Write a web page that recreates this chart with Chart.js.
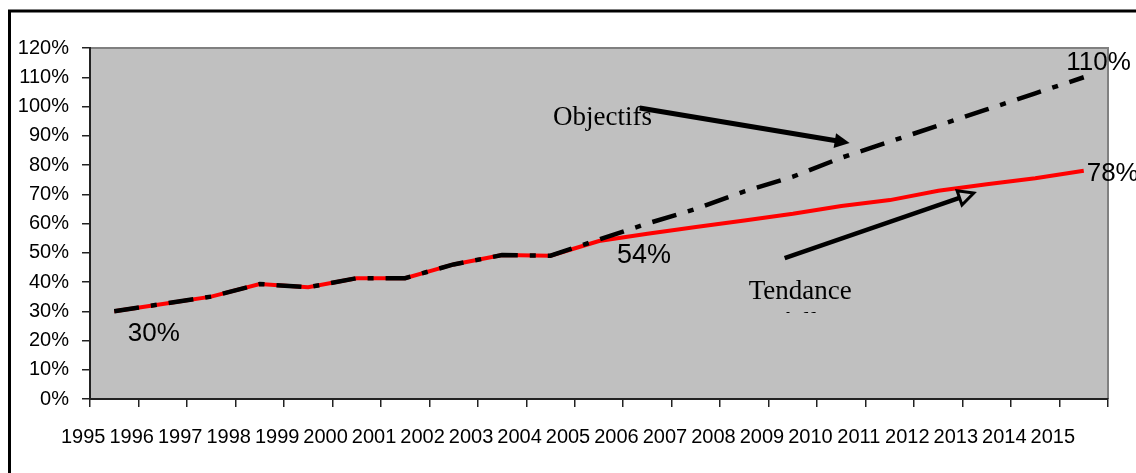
<!DOCTYPE html>
<html><head><meta charset="utf-8">
<script src="https://cdn.jsdelivr.net/npm/chart.js@4.4.0/dist/chart.umd.min.js"></script>
<style>html,body{margin:0;padding:0;background:#fff;overflow:hidden}#wrap{width:1136px;height:473px;position:relative}</style>
</head><body><div id="wrap"><canvas id="c"></canvas></div>
<script>
const years = ['1995','1996','1997','1998','1999','2000','2001','2002','2003','2004','2005','2006','2007','2008','2009','2010','2011','2012','2013','2014','2015'];
const tendance = [30,32.5,35,39.3,38.2,41.3,41.3,46,49.2,49,54,56.5,58.8,61,63.3,66,68,71.2,73.4,75.5,78];
const objectifs = [30,32.5,35,39.3,38.2,41.3,41.3,46,49.2,49,54.5,60,65,71,76,82.5,88,93.5,99,104.5,110];
const yMin = 0, yMax = 120, yStep = 10;

// annotations in data units (x: category index, y: percent)
const noteTexts = [
  {t:'30%', x:0.28, y:19.8, font:'26px "Liberation Sans"', align:'left'},
  {t:'54%', x:10.37, y:46.5, font:'27px "Liberation Sans"', align:'left'},
  {t:'78%', x:20.06, y:74.5, font:'26px "Liberation Sans"', align:'left'},
  {t:'110%', x:19.64, y:112.5, font:'26px "Liberation Sans"', align:'left'},
  {t:'Objectifs', x:9.05, y:93.7, font:'27px "Liberation Serif"', align:'left'},
  {t:'Tendance', x:14.15, y:34.2, font:'27px "Liberation Serif"', align:'center'},
  {t:'réelle', x:14.15, y:23.2, font:'27px "Liberation Serif"', align:'center', clipY:29.4}
];
const noteArrows = [
  {x0:10.84, y0:99.5, x1:15.17, y1:87.5, w:5, head:'solid'},
  {x0:13.83, y0:48.2, x1:17.73, y1:70.4, w:4.5, head:'open'}
];

const deco = {
  id:'deco',
  beforeDraw(chart){
    const {ctx, chartArea:a} = chart;
    ctx.save();
    ctx.fillStyle='#fff'; ctx.fillRect(0,0,chart.width,chart.height);
    ctx.strokeStyle='#000'; ctx.lineWidth=3;
    ctx.strokeRect(9.5,11,2000,2000);
    ctx.fillStyle='#c0c0c0';
    ctx.fillRect(a.left,a.top,a.right-a.left,a.bottom-a.top);
    ctx.strokeStyle='#808080'; ctx.lineWidth=2;
    ctx.beginPath(); ctx.moveTo(a.left,a.top); ctx.lineTo(a.right,a.top); ctx.lineTo(a.right,a.bottom); ctx.stroke();
    ctx.restore();
  },
  afterDatasetsDraw(chart){
    const {ctx} = chart; const xs=chart.scales.x, ys=chart.scales.y;
    ctx.save();
    noteArrows.forEach(n=>{
      const x0=xs.getPixelForValue(n.x0), y0=ys.getPixelForValue(n.y0);
      const x1=xs.getPixelForValue(n.x1), y1=ys.getPixelForValue(n.y1);
      const ang=Math.atan2(y1-y0,x1-x0);
      const L=15, H=7.5;
      const bx=x1-L*Math.cos(ang), by=y1-L*Math.sin(ang);
      ctx.strokeStyle='#000'; ctx.fillStyle='#000'; ctx.lineWidth=n.w; ctx.lineCap='butt';
      ctx.beginPath(); ctx.moveTo(x0,y0); ctx.lineTo(bx+3*Math.cos(ang),by+3*Math.sin(ang)); ctx.stroke();
      ctx.beginPath();
      ctx.moveTo(x1,y1);
      ctx.lineTo(bx+H*Math.sin(ang), by-H*Math.cos(ang));
      ctx.lineTo(bx-H*Math.sin(ang), by+H*Math.cos(ang));
      ctx.closePath();
      if(n.head==='solid'){ctx.fill();}
      else {ctx.fillStyle='#c0c0c0'; ctx.fill(); ctx.lineWidth=3; ctx.lineJoin='miter'; ctx.stroke();}
    });
    noteTexts.forEach(n=>{
      const x=xs.getPixelForValue(n.x), y=ys.getPixelForValue(n.y);
      ctx.save();
      if(n.clipY!==undefined){ctx.beginPath(); ctx.rect(0,0,chart.width,ys.getPixelForValue(n.clipY)); ctx.clip();}
      ctx.font=n.font; ctx.fillStyle='#000'; ctx.textAlign=n.align; ctx.textBaseline='alphabetic';
      ctx.fillText(n.t,x,y);
      ctx.restore();
    });
    ctx.restore();
  }
};

new Chart(document.getElementById('c'),{
  type:'line',
  data:{labels:years,datasets:[
    {label:'Objectifs',data:objectifs,borderColor:'#000',borderWidth:4.5,borderDash:[25,12,6,12],pointRadius:0,tension:0,fill:false},
    {label:'Tendance',data:tendance,borderColor:'#ff0000',borderWidth:4,pointRadius:0,tension:0,fill:false}
  ]},
  options:{
    responsive:true, maintainAspectRatio:false, animation:false,
    layout:{padding:{left:0,top:48,right:28,bottom:0}},
    plugins:{legend:{display:false},tooltip:{enabled:false}},
    scales:{
      x:{offset:true,
        grid:{offset:true,drawOnChartArea:false,drawTicks:true,tickLength:8,color:'#222',lineWidth:1.5},
        border:{color:'#222',width:2},
        ticks:{font:{family:'"Liberation Sans"',size:20},color:'#000',maxRotation:0,autoSkip:false,labelOffset:-31,padding:18},
        afterFit(s){s.height=74;}
      },
      y:{min:yMin,max:yMax,
        grid:{drawOnChartArea:false,drawTicks:true,tickLength:8,color:'#222',lineWidth:1.5},
        border:{color:'#222',width:2},
        ticks:{stepSize:yStep,font:{family:'"Liberation Sans"',size:20},color:'#000',padding:13,callback:v=>v+'%'},
        afterFit(s){s.width=90;}
      }
    }
  },
  plugins:[deco]
});
</script></body></html>
